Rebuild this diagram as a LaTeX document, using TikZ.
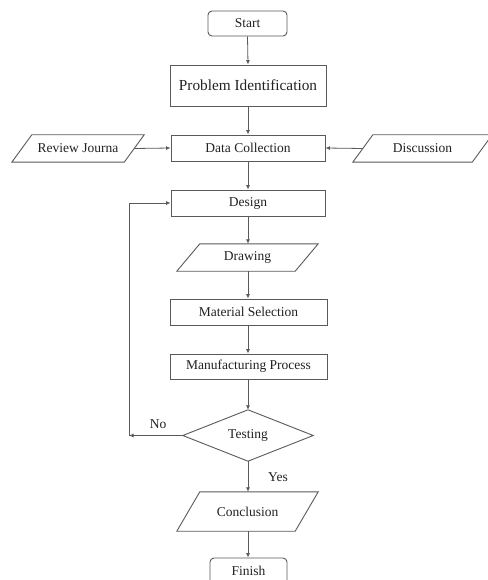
\documentclass[tikz,border=0pt]{standalone}
\usepackage{fontspec}
\setmainfont{Liberation Serif}
\usetikzlibrary{arrows.meta}
\definecolor{linegray}{HTML}{5A5A5A}
\definecolor{textgray}{HTML}{222222}
\tikzset{
  base/.style={inner sep=0pt, text=textgray, font=\fontsize{13.5}{15}\selectfont},
  procbox/.style={base, draw=linegray, line width=0.9pt, rectangle},
  termbox/.style={procbox, rounded corners=4pt},
  hidden/.style={base, rectangle, draw=none},
  conn/.style={draw=linegray, line width=0.8pt, -{Latex[length=4.5pt,width=4pt]}},
  plainline/.style={draw=linegray, line width=0.8pt},
  shapeline/.style={draw=linegray, line width=0.9pt},
  lbl/.style={base}
}
\newcommand{\parallelogramof}[2]{%
  \draw[shapeline] ([xshift=#2]#1.north west) -- (#1.north east) -- ([xshift=-#2]#1.south east) -- (#1.south west) -- cycle;}
\newcommand{\diamondof}[1]{%
  \draw[shapeline] (#1.north) -- (#1.east) -- (#1.south) -- (#1.west) -- cycle;}
\begin{document}
\begin{tikzpicture}[x=1pt,y=-1pt]
\useasboundingbox (0,0) rectangle (487,580);
\fill[white] (0,0) rectangle (487,580);

\node[termbox, minimum width=79pt, minimum height=25pt] (start) at (247.5,23.5) {Start};
\node[procbox, minimum width=156pt, minimum height=41pt, font=\fontsize{15.3}{17}\selectfont] (prob) at (248,85.5) {Problem Identification};
\node[procbox, minimum width=154pt, minimum height=26pt] (data) at (248,148) {Data Collection};
\node[hidden, minimum width=132pt, minimum height=27pt] (rev) at (78,148.5) {Review Journa};
\parallelogramof{rev}{20pt}
\node[hidden, minimum width=139pt, minimum height=27pt] (disc) at (422.5,148.5) {Discussion};
\parallelogramof{disc}{20pt}
\node[procbox, minimum width=154pt, minimum height=26pt] (design) at (248,203) {Design};
\node[hidden, minimum width=141pt, minimum height=27pt] (draw) at (247.5,257.5) {Drawing};
\parallelogramof{draw}{23pt}
\node[procbox, minimum width=157pt, minimum height=26pt] (mat) at (248.5,312) {Material Selection};
\node[procbox, minimum width=157pt, minimum height=25pt] (manuf) at (248.5,366.5) {Manufacturing Process};
\node[hidden, minimum width=130pt, minimum height=51pt] (test) at (248,435.5) {Testing};
\diamondof{test}
\node[hidden, minimum width=141pt, minimum height=39pt] (concl) at (247.5,511.5) {Conclusion};
\parallelogramof{concl}{23pt}
\node[termbox, minimum width=77pt, minimum height=26pt] (finish) at (248.5,571) {Finish};

\coordinate (corner) at (129,435.5);

\draw[conn] (start.south) -- (prob.north);
\draw[conn] (prob.south) -- (data.north);
\draw[conn] ([xshift=-10pt]rev.east) -- (data.west);
\draw[conn] ([xshift=10pt]disc.west) -- (data.east);
\draw[conn] (data.south) -- (design.north);
\draw[conn] (design.south) -- ([xshift=0.5pt]draw.north);
\draw[conn] ([xshift=0.5pt]draw.south) -- (mat.north -| design.south);
\draw[conn] (mat.south -| design.south) -- (manuf.north -| design.south);
\draw[conn] (manuf.south -| design.south) -- (test.north);
\draw[conn] (test.west) -- (corner);
\draw[conn] (corner) |- (design.west);
\draw[conn] (test.south) -- (concl.north -| test.south);
\draw[conn] (concl.south -| test.south) -- (finish.north -| test.south);

\node[lbl] (no) at (158,424) {No};
\node[lbl] (yes) at (278,477) {Yes};
\end{tikzpicture}
\end{document}
